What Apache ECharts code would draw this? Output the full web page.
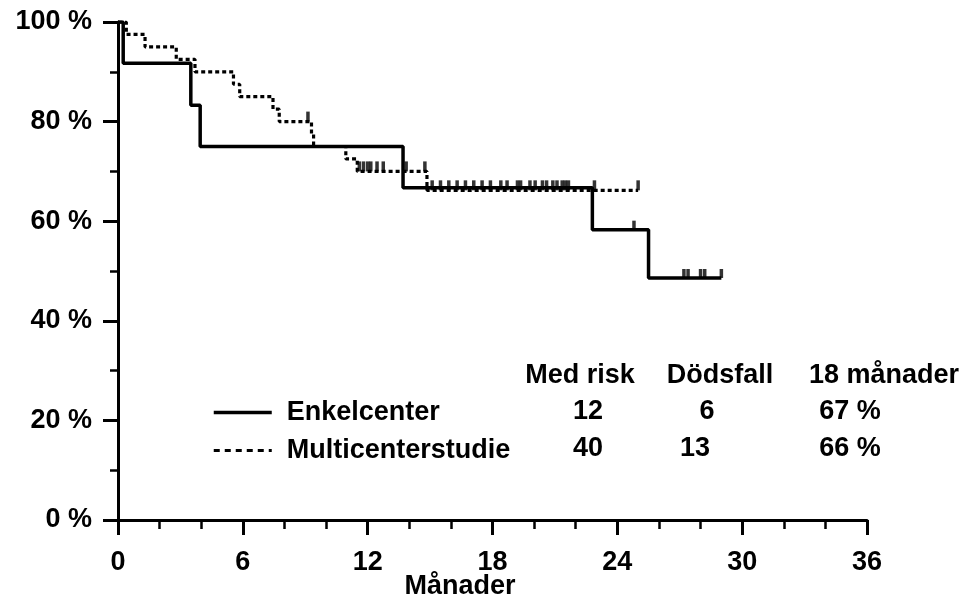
<!DOCTYPE html>
<html>
<head>
<meta charset="utf-8">
<script src="https://cdn.jsdelivr.net/npm/echarts@6/dist/echarts.min.js"></script>
<style>
html,body{margin:0;padding:0;background:#fff;}
#chart{width:966px;height:603px;}
</style>
</head>
<body>
<div id="chart"></div>
<script>
// ---- Data ----
const seriesNames = ['Enkelcenter', 'Multicenterstudie'];

// Enkelcenter (solid) Kaplan-Meier steps
const enkelTimes = [0, 0.25, 3.5, 3.95, 13.7, 22.8, 25.5, 29.0];
const enkelSurv  = [100, 91.7, 83.3, 75.0, 66.7, 58.3, 48.6, 48.6];
const enkelCensorTimes = [24.8, 27.2, 27.4, 28.0, 28.2, 29.0];
const enkelCensorSurv  = [58.3, 48.6, 48.6, 48.6, 48.6, 48.6];

// Multicenterstudie (dotted) Kaplan-Meier steps
const multiTimes = [0, 0.4, 1.3, 2.8, 3.7, 5.55, 5.85, 7.45, 7.75, 9.3, 9.4, 10.95, 11.5, 14.85, 25.0];
const multiSurv  = [100, 97.5, 95, 92.5, 90, 87.5, 85, 82.5, 80, 77.5, 75, 72.5, 70, 66.2, 66.2];
const multiCensorTimes = [9.13, 11.6, 11.8, 12.0, 12.15, 12.45, 12.75, 13.85, 14.75,
  15.1, 15.5, 15.9, 16.3, 16.7, 17.1, 17.5, 17.9, 18.4, 18.7, 19.2, 19.35, 19.8, 20.05,
  20.4, 20.6, 20.9, 21.1, 21.35, 21.5, 21.65, 22.9, 25.0];
const multiCensorSurv = [80, 70, 70, 70, 70, 70, 70, 70, 70,
  66.2, 66.2, 66.2, 66.2, 66.2, 66.2, 66.2, 66.2, 66.2, 66.2, 66.2, 66.2, 66.2, 66.2,
  66.2, 66.2, 66.2, 66.2, 66.2, 66.2, 66.2, 66.2, 66.2];

// Tick labels
const xTickValues = [0, 6, 12, 18, 24, 30, 36];
const yTickLabels = ['0 %', '20 %', '40 %', '60 %', '80 %', '100 %'];

// Table
const tableHeaders = ['Med risk', 'Dödsfall', '18 månader'];
const atRisk = ['12', '40'];
const deaths = ['6', '13'];
const surv18 = ['67 %', '66 %'];
const xAxisTitle = 'Månader';

// ---- Chart ----
const FONT = '"Liberation Sans", Arial, Helvetica, sans-serif';
const zip = (a, b) => a.map((v, i) => [v, b[i]]);
const chart = echarts.init(document.getElementById('chart'), null, {renderer: 'canvas'});

const solidStyle = {color: '#000', width: 3.5, type: 'solid'};
const dottedStyle = {color: '#000', width: 3.2, type: [4, 3]};
const legendDotted = {color: '#000', width: 3.2, type: [6, 5]};

const txt = (text, x, y, align) => ({
  type: 'text', x: x, y: y,
  style: {text: text, fill: '#000', font: 'bold 27px ' + FONT, textAlign: align || 'center', textVerticalAlign: 'middle'}
});

const rowY = [412, 449];
const graphics = [
  txt(tableHeaders[0], 580, 376),
  txt(tableHeaders[1], 720, 376),
  txt(tableHeaders[2], 884, 376),
  txt(atRisk[0], 588, rowY[0]), txt(atRisk[1], 588, rowY[1]),
  txt(deaths[0], 707, rowY[0]), txt(deaths[1], 695, rowY[1]),
  txt(surv18[0], 850, rowY[0]), txt(surv18[1], 850, rowY[1]),
  txt(xAxisTitle, 460, 587)
];

chart.setOption({
  animation: false,
  backgroundColor: '#fff',
  grid: {left: 118, right: 99, top: 22, bottom: 83, containLabel: false},
  legend: {
    data: [
      {name: seriesNames[0], lineStyle: solidStyle, itemStyle: {opacity: 0, color: 'transparent', borderWidth: 0}},
      {name: seriesNames[1], lineStyle: legendDotted, itemStyle: {opacity: 0, color: 'transparent', borderWidth: 0}}
    ],
    orient: 'vertical',
    left: 212, top: 399, padding: 0,
    itemWidth: 58, itemHeight: 26, itemGap: 11,
    selectedMode: false,
    itemStyle: {opacity: 0, color: 'transparent', borderWidth: 0},
    textStyle: {fontSize: 27, fontWeight: 'bold', fontFamily: FONT, color: '#000', padding: [0, 0, 0, 10]}
  },
  xAxis: {
    type: 'value', min: 0, max: 36, interval: 6,
    axisLine: {show: true, onZero: false, lineStyle: {color: '#000', width: 3}},
    axisTick: {show: true, length: 15, lineStyle: {color: '#000', width: 3}},
    minorTick: {show: true, splitNumber: 3, length: 9, lineStyle: {color: '#000', width: 2.5}},
    splitLine: {show: false},
    axisLabel: {margin: 29, color: '#000', fontSize: 27, fontWeight: 'bold', fontFamily: FONT,
      formatter: v => xTickValues.indexOf(v) >= 0 ? String(v) : ''}
  },
  yAxis: {
    type: 'value', min: 0, max: 100, interval: 20,
    axisLine: {show: true, lineStyle: {color: '#000', width: 3}},
    axisTick: {show: true, length: 15, lineStyle: {color: '#000', width: 3}},
    minorTick: {show: true, splitNumber: 2, length: 8, lineStyle: {color: '#000', width: 2.5}},
    splitLine: {show: false},
    axisLabel: {margin: 26, color: '#000', fontSize: 27, fontWeight: 'bold', fontFamily: FONT,
      formatter: v => yTickLabels[Math.round(v / 20)]}
  },
  graphic: graphics,
  series: [
    {
      name: seriesNames[0], type: 'line', step: 'end', symbol: 'none', showSymbol: false,
      data: zip(enkelTimes, enkelSurv),
      lineStyle: solidStyle,
      itemStyle: {color: '#000'}, z: 3
    },
    {
      name: seriesNames[1], type: 'line', step: 'end', symbol: 'none', showSymbol: false,
      data: zip(multiTimes, multiSurv),
      lineStyle: dottedStyle,
      itemStyle: {color: '#000'}, z: 4
    },
    {
      name: 'Enkel censur', type: 'scatter', symbol: 'rect', symbolSize: [3.5, 9], symbolOffset: [0, -4.5],
      data: zip(enkelCensorTimes, enkelCensorSurv), itemStyle: {color: '#000'}, z: 5
    },
    {
      name: 'Multi censur', type: 'scatter', symbol: 'rect', symbolSize: [3.5, 10], symbolOffset: [0, -5],
      data: zip(multiCensorTimes, multiCensorSurv), itemStyle: {color: '#000'}, z: 5
    }
  ]
});
</script>
</body>
</html>
